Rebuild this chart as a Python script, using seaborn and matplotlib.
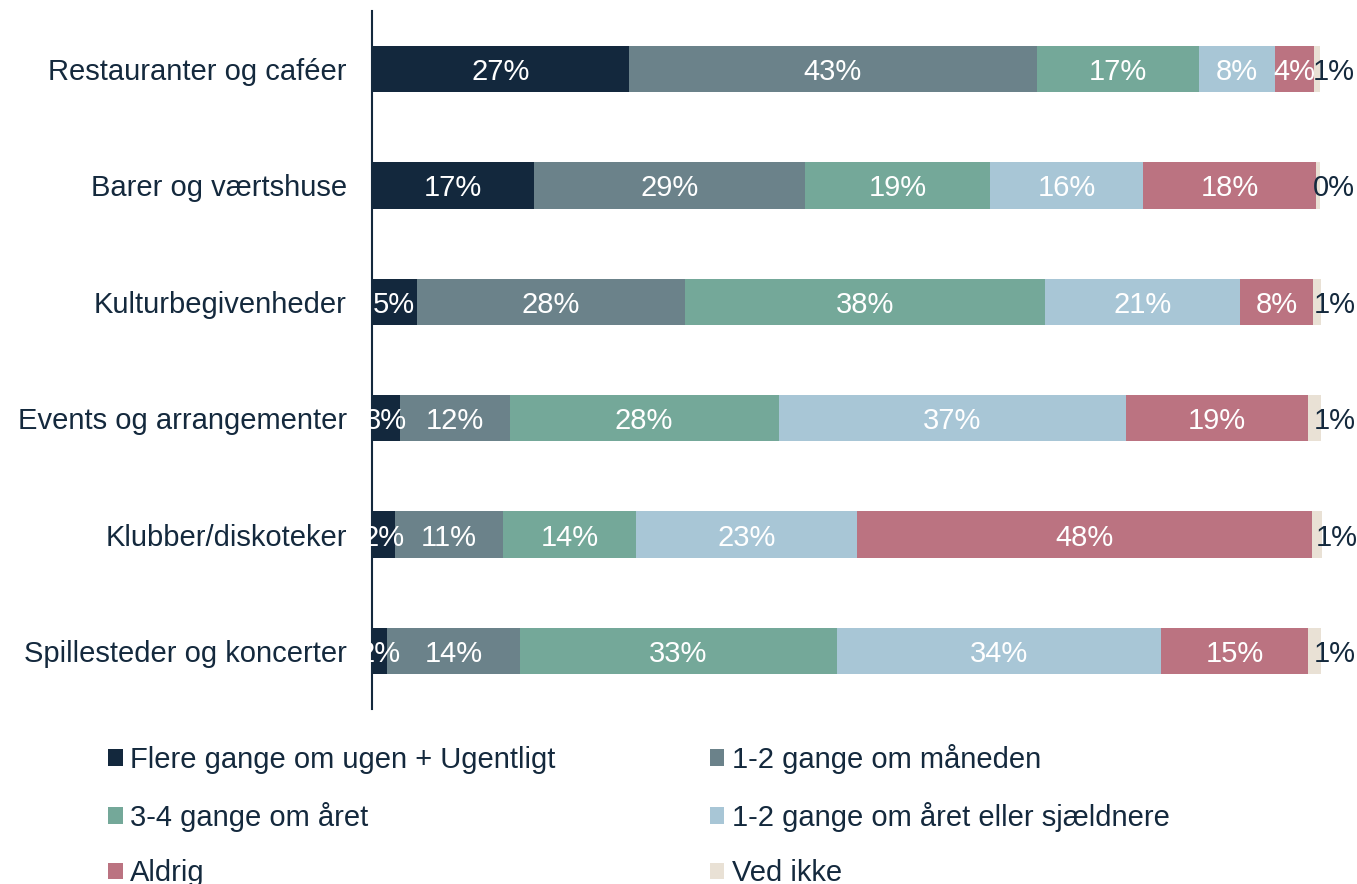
import numpy as np
import pandas as pd
import matplotlib
matplotlib.use("Agg")
import matplotlib.pyplot as plt
import seaborn as sns

categories = ["Restauranter og caféer", "Barer og værtshuse", "Kulturbegivenheder",
              "Events og arrangementer", "Klubber/diskoteker", "Spillesteder og koncerter"]
series_names = ["Flere gange om ugen + Ugentligt", "1-2 gange om måneden", "3-4 gange om året",
                "1-2 gange om året eller sjældnere", "Aldrig", "Ved ikke"]
flere_ugentligt = [27.0, 17.0, 4.7, 2.9, 2.4, 1.6]
maaned_1_2 = [43.0, 28.6, 28.2, 11.6, 11.4, 14.0]
aar_3_4 = [17.0, 19.4, 37.9, 28.3, 14.0, 33.3]
aar_1_2 = [8.0, 16.2, 20.6, 36.6, 23.2, 34.2]
aldrig = [4.2, 18.2, 7.7, 19.1, 47.9, 15.4]
ved_ikke = [0.6, 0.4, 0.8, 1.4, 1.2, 1.4]

colors = ["#13283d", "#6b828a", "#74a899", "#a8c6d6", "#bb7381", "#e9e1d5"]
text_color = "#14293d"

sns.set_theme(style="white")
plt.rcParams["font.family"] = ["Liberation Sans", "DejaVu Sans"]

series = [flere_ugentligt, maaned_1_2, aar_3_4, aar_1_2, aldrig, ved_ikke]
vals = np.array(series)  # shape (6 series, 6 categories)
cum = np.cumsum(vals, axis=0)

fig = plt.figure(figsize=(13.57, 8.84), dpi=100)
ax = fig.add_axes([372/1357, 1 - 709/884, (1322 - 372)/1357, (709 - 11)/884])

handles = []
for i in range(len(series) - 1, -1, -1):
    df = pd.DataFrame({"cat": categories, "val": cum[i]})
    sns.barplot(data=df, x="val", y="cat", order=categories, orient="h",
                color=colors[i], width=0.40, linewidth=0, saturation=1,
                errorbar=None, ax=ax)
    handles.append(plt.Rectangle((0, 0), 1, 1, facecolor=colors[i], edgecolor="none"))
handles = handles[::-1]

fs = 21
for i in range(len(series) - 1):
    for j in range(len(categories)):
        center = cum[i][j] - vals[i][j] / 2
        ax.text(center, j, f"{vals[i][j]:.0f}%", ha="center", va="center_baseline",
                color="white", fontsize=fs)
last = len(series) - 1
for j in range(len(categories)):
    ax.annotate(f"{vals[last][j]:.0f}%", xy=(cum[last][j], j), xytext=(14, 0),
                textcoords="offset pixels", ha="center", va="center_baseline",
                color=text_color, fontsize=fs, annotation_clip=False)

ax.set_xlim(0, 100)
ax.set_ylim(5.5, -0.5)
ax.set_xlabel("")
ax.set_ylabel("")
ax.set_xticks([])
for s in ["top", "right", "bottom"]:
    ax.spines[s].set_visible(False)
ax.spines["left"].set_color(text_color)
ax.spines["left"].set_linewidth(1.5)
ax.tick_params(axis="y", length=0, pad=18, labelsize=fs, labelcolor=text_color)
for lbl in ax.get_yticklabels():
    lbl.set_verticalalignment("center_baseline")

order = [0, 2, 4, 1, 3, 5]
leg = fig.legend([handles[k] for k in order], [series_names[k] for k in order],
                 ncol=2, loc="upper left", bbox_to_anchor=(108/1357, 1 - 744/884),
                 frameon=False, fontsize=fs, handlelength=0.5, handleheight=0.5,
                 handletextpad=0.25, columnspacing=5.3, labelspacing=0.95,
                 borderpad=0, borderaxespad=0)
for t in leg.get_texts():
    t.set_color(text_color)

fig.savefig("out.png", dpi=100)
